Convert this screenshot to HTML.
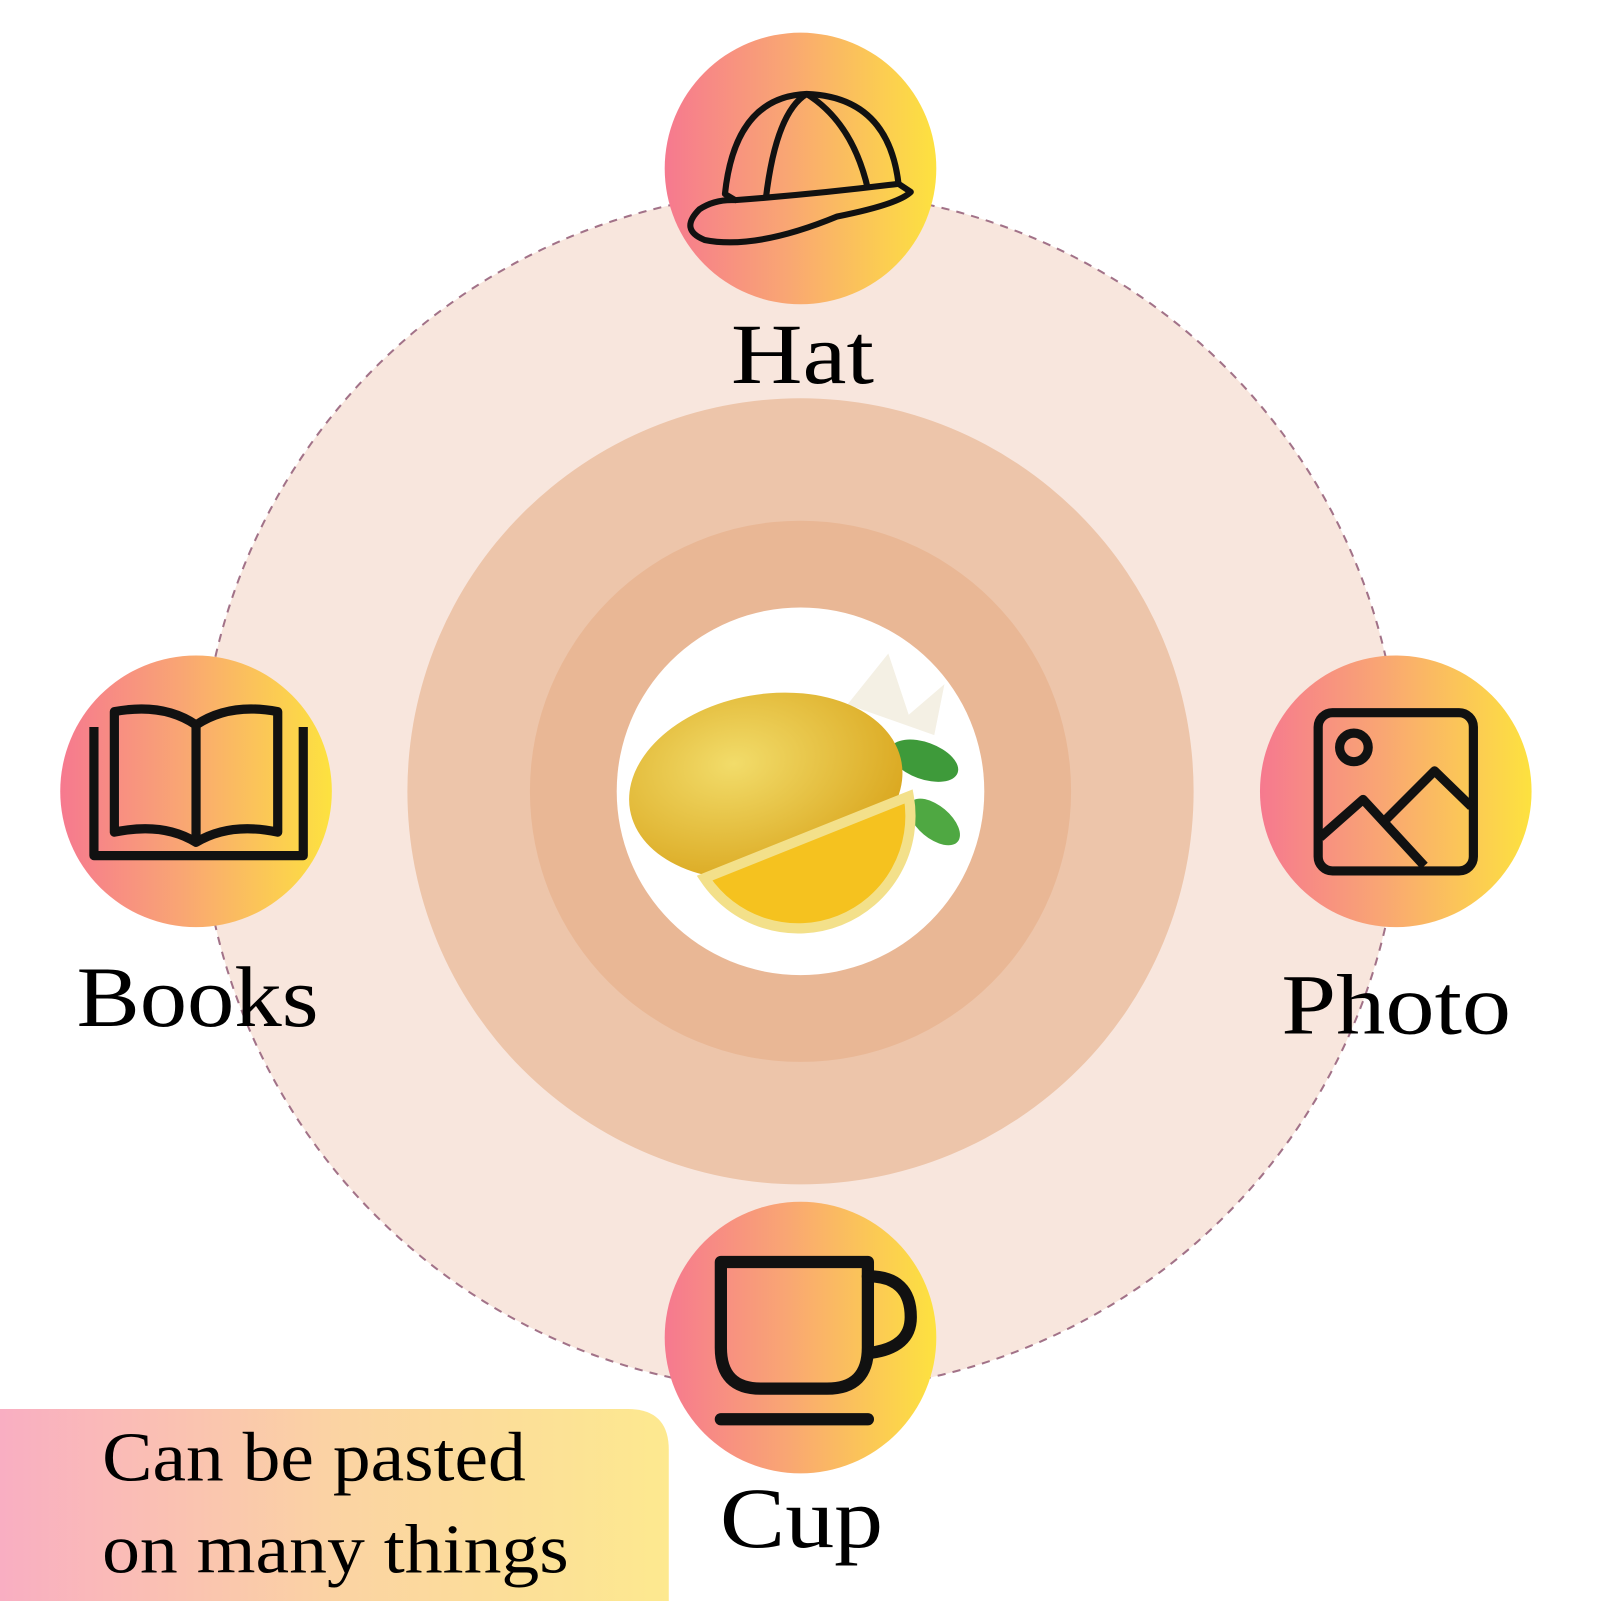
<!DOCTYPE html>
<html><head><meta charset="utf-8"><style>
html,body{margin:0;padding:0;background:#fff;}
svg{display:block;}
text{font-family:"Liberation Serif",serif;fill:#000;}
</style></head><body>
<svg width="1601" height="1601" viewBox="0 0 1568 1568" xmlns="http://www.w3.org/2000/svg">
<defs>
<linearGradient id="g" x1="0" x2="1" y1="0" y2="0">
<stop offset="0" stop-color="#f6798f"/><stop offset="0.45" stop-color="#f9a673"/><stop offset="1" stop-color="#fde23f"/>
</linearGradient>
<linearGradient id="box" x1="0" x2="1" y1="0" y2="0">
<stop offset="0" stop-color="#f9aec2"/><stop offset="0.5" stop-color="#fbd3a3"/><stop offset="1" stop-color="#fde98f"/>
</linearGradient>
<radialGradient id="lem" cx="0.4" cy="0.35" r="0.7">
<stop offset="0" stop-color="#f2dc6a"/><stop offset="1" stop-color="#d9a51c"/>
</radialGradient>
</defs>
<circle cx="784" cy="775" r="588" fill="#f8e6dd" stroke="#a27288" stroke-width="2" stroke-dasharray="8,7"/>
<circle cx="784" cy="775" r="385" fill="#edc5aa"/>
<circle cx="784" cy="775" r="265" fill="#e9b795"/>
<circle cx="784" cy="775" r="180" fill="#fff"/>
<path d="M830 690 L870 640 L890 700 L925 670 L915 720 Z" fill="#f4f0e4"/>
<ellipse cx="905" cy="745" rx="35" ry="18" fill="#3e9a3a" transform="rotate(20 905 745)"/>
<ellipse cx="915" cy="805" rx="30" ry="16" fill="#4fa842" transform="rotate(40 915 805)"/>
<ellipse cx="750" cy="770" rx="135" ry="90" fill="url(#lem)" transform="rotate(-10 750 770)"/>
<path d="M690 860 A110 110 0 0 0 890 780 Z" fill="#f5c21f" stroke="#f3e08a" stroke-width="10"/>
<circle cx="784" cy="165" r="133" fill="url(#g)"/>
<circle cx="192" cy="775" r="133" fill="url(#g)"/>
<circle cx="1367" cy="775" r="133" fill="url(#g)"/>
<circle cx="784" cy="1310" r="133" fill="url(#g)"/>
<g fill="none" stroke="#111" stroke-width="6" stroke-linejoin="round">
<path d="M710 190 Q720 95 790 92 Q870 95 880 180 L892 188 Q880 200 820 212 Q740 245 690 235 Q665 225 685 205 Q700 195 720 196 Z"/>
<path d="M720 196 Q800 190 880 180"/>
<path d="M790 92 Q760 110 750 195"/>
<path d="M790 92 Q835 120 850 185"/>
</g>
<g fill="none" stroke="#111" stroke-width="9" stroke-linejoin="round">
<path d="M92 712 V838 H297 V712"/>
<path d="M112 697 Q160 688 192 710 Q225 688 272 697 V815 Q225 805 192 825 Q160 805 112 815 Z"/>
<path d="M192 710 V825"/>
</g>
<g fill="none" stroke="#111" stroke-width="9" stroke-linejoin="round">
<rect x="1291" y="698" width="152" height="155" rx="14"/>
<circle cx="1326" cy="732" r="14"/>
<path d="M1293 820 L1335 783 L1395 848 M1355 805 L1405 755 L1441 790"/>
</g>
<g fill="none" stroke="#111" stroke-width="12" stroke-linejoin="round" stroke-linecap="round">
<path d="M706 1236 H850 V1320 Q850 1360 810 1360 H745 Q706 1360 706 1320 Z"/>
<path d="M850 1250 Q892 1250 892 1290 Q892 1320 852 1325"/>
<path d="M706 1390 H850"/>
</g>
<text x="716" y="375" font-size="84" textLength="140" lengthAdjust="spacingAndGlyphs">Hat</text>
<text x="75" y="1005" font-size="84" textLength="237" lengthAdjust="spacingAndGlyphs">Books</text>
<text x="1255" y="1012" font-size="84" textLength="225" lengthAdjust="spacingAndGlyphs">Photo</text>
<text x="705" y="1515" font-size="84" textLength="160" lengthAdjust="spacingAndGlyphs">Cup</text>
<path d="M0 1380 H615 Q655 1380 655 1420 V1568 H0 Z" fill="url(#box)"/>
<text x="100" y="1450" font-size="68" textLength="415" lengthAdjust="spacingAndGlyphs">Can be pasted</text>
<text x="100" y="1540" font-size="68" textLength="457" lengthAdjust="spacingAndGlyphs">on many things</text>
</svg>
</body></html>
